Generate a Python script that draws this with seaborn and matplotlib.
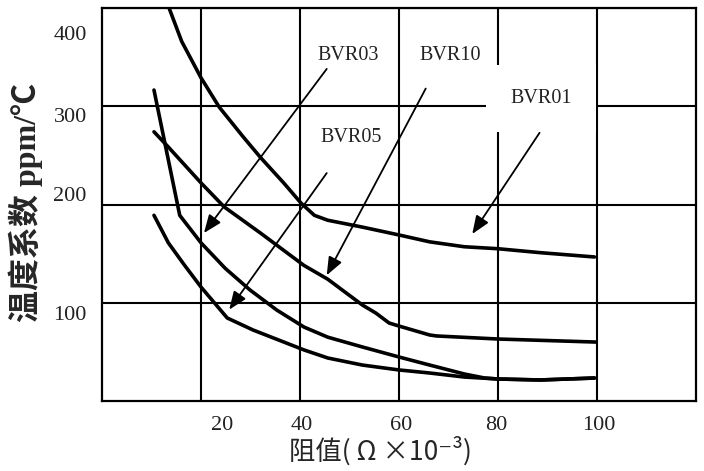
import pandas as pd
import seaborn as sns
import matplotlib.pyplot as plt
from matplotlib.transforms import ScaledTranslation

sns.set_theme(style="whitegrid")
plt.rcParams['font.family'] = ['Liberation Serif', 'Noto Sans CJK SC', 'DejaVu Sans']
plt.rcParams['axes.unicode_minus'] = False

# --- data ---
series_names = ['BVR01', 'BVR10', 'BVR03', 'BVR05']

bvr01_x = [13.4, 16.1, 20.0, 23.7, 28.5, 32.0, 36.7, 40.2, 42.9, 45.6, 52.6, 60.0, 66.2, 73.2, 80.0, 88.5, 99.5]
bvr01_y = [402, 366, 329, 299, 269, 248, 222, 201.5, 189, 184, 177, 169, 162, 157, 155, 151, 146.6]

bvr10_x = [10.5, 13.4, 20.0, 24.7, 32.0, 40.8, 45.6, 52.6, 55.3, 58.0, 60.0, 66.2, 67.6, 80.0, 99.8]
bvr10_y = [274, 258.5, 222, 197.5, 171, 138, 124, 97.7, 89.6, 79.4, 76.3, 67.2, 66.2, 63.1, 60]

bvr03_x = [10.5, 15.7, 20.0, 24.9, 29.9, 35.3, 40.8, 45.6, 52.6, 60.0, 66.2, 73.2, 77.3, 80.0, 88.5, 99.5]
bvr03_y = [316.5, 189, 161, 135, 113, 92.6, 75.3, 65, 55, 44.8, 36.6, 27.5, 23.4, 22.4, 21.4, 23.4]

bvr05_x = [10.5, 13.4, 16.7, 20.0, 25.3, 30.5, 40.8, 45.6, 52.6, 60.0, 66.2, 73.2, 80.0, 88.5, 99.5]
bvr05_y = [189, 161, 138, 116, 84.5, 72.3, 52, 43.8, 36.6, 31.6, 28.5, 24.4, 22.4, 21.4, 23.4]

x_ticks = [20, 40, 60, 80, 100]
y_ticks = [100, 200, 300, 400]

# build long table for seaborn
frames = []
for name, xs, ys in zip(series_names,
                        [bvr01_x, bvr10_x, bvr03_x, bvr05_x],
                        [bvr01_y, bvr10_y, bvr03_y, bvr05_y]):
    frames.append(pd.DataFrame({'R': xs, 'TCR': ys, 'series': name}))
df = pd.concat(frames, ignore_index=True)

# --- plotting ---
fig = plt.figure(figsize=(7.04, 4.71), dpi=100)
ax = fig.add_axes([0.1449, 0.1486, 0.8437, 0.8344])

sns.lineplot(data=df, x='R', y='TCR', hue='series', palette=['black'] * 4,
             estimator=None, sort=False, linewidth=2.6, legend=False, ax=ax)

ax.set_xlim(0, 120)
ax.set_ylim(0, 400)
ax.set_xticks(x_ticks)
ax.set_yticks(y_ticks)
ax.grid(True, color='black', linewidth=1.5)
ax.set_axisbelow(True)
for spine in ax.spines.values():
    spine.set_color('black')
    spine.set_linewidth(1.6)
ax.tick_params(axis='both', length=0, labelsize=16, colors='#222222')
ax.tick_params(axis='x', pad=11)
ax.tick_params(axis='y', pad=11)

# the scanned original has its tick labels slightly off the grid lines (in px)
x_label_shift = [21, 2, 2, -2, 2]
y_label_shift = [-10, 11, -9, -25]
for lab, dx in zip(ax.get_xticklabels(), x_label_shift):
    lab.set_transform(lab.get_transform() + ScaledTranslation(dx / 100, 0, fig.dpi_scale_trans))
for lab, dy in zip(ax.get_yticklabels(), y_label_shift):
    lab.set_transform(lab.get_transform() + ScaledTranslation(0, dy / 100, fig.dpi_scale_trans))

cjk = ['Noto Sans CJK SC', 'DejaVu Sans']
ax.set_xlabel('阻值( Ω ×10⁻³)', fontsize=19, family=cjk)
ax.set_ylabel('温度系数 ppm/℃', fontsize=23, fontweight='bold',
              family=['Liberation Serif', 'Noto Sans CJK SC'])
ax.xaxis.set_label_coords(0.468, -0.09)
ax.yaxis.set_label_coords(-0.10, 0.505)

# labels with arrows: (text pos, arrow start, arrow tip)
label_text = ['BVR03', 'BVR05', 'BVR10', 'BVR01']
label_pos = [(49.7, 352), (50.3, 268), (70.3, 352), (88.7, 308)]
arrow_from = [(45.4, 338), (45.4, 232), (65.4, 318), (88.4, 273)]
arrow_to = [(20.6, 171), (25.7, 93), (45.4, 128), (74.8, 170)]

for txt, pos, a0, a1 in zip(label_text, label_pos, arrow_from, arrow_to):
    box = None
    if txt == 'BVR01':
        box = dict(boxstyle='square,pad=1.2', fc='white', ec='none')
    ax.text(pos[0], pos[1], txt, ha='center', va='center', fontsize=14.5,
            color='#222222', bbox=box, zorder=3)
    ax.annotate('', xy=a1, xytext=a0,
                arrowprops=dict(arrowstyle='-|>,head_length=0.55,head_width=0.22',
                                color='black', lw=1.3, mutation_scale=20,
                                shrinkA=0, shrinkB=0))

fig.savefig('out.png', dpi=100)
